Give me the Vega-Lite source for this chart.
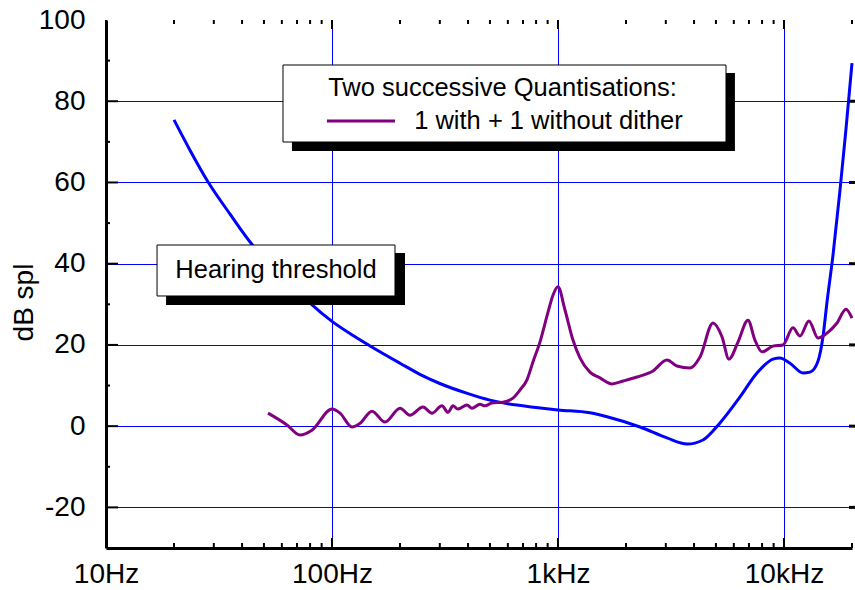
{
  "$schema": "https://vega.github.io/schema/vega-lite/v6.json",
  "width": 746,
  "height": 528,
  "autosize": "none",
  "padding": {"left": 106, "top": 20, "right": 3, "bottom": 42},
  "background": "white",
  "config": {"font": "Liberation Sans", "view": {"stroke": null}, "tick": {"opacity": 1}},
  "datasets": {
    "curves": [
      {"s": "Hearing threshold", "f": 20.0, "db": 75.4},
      {"s": "Hearing threshold", "f": 23.5, "db": 68.0},
      {"s": "Hearing threshold", "f": 28.3, "db": 60.1},
      {"s": "Hearing threshold", "f": 35.4, "db": 52.2},
      {"s": "Hearing threshold", "f": 44.2, "db": 44.8},
      {"s": "Hearing threshold", "f": 55, "db": 39.2},
      {"s": "Hearing threshold", "f": 65.5, "db": 35.0},
      {"s": "Hearing threshold", "f": 80, "db": 30.3},
      {"s": "Hearing threshold", "f": 100, "db": 25.8},
      {"s": "Hearing threshold", "f": 125, "db": 22.2},
      {"s": "Hearing threshold", "f": 150, "db": 19.5},
      {"s": "Hearing threshold", "f": 200, "db": 15.5},
      {"s": "Hearing threshold", "f": 250, "db": 12.5},
      {"s": "Hearing threshold", "f": 300, "db": 10.5},
      {"s": "Hearing threshold", "f": 400, "db": 8.0},
      {"s": "Hearing threshold", "f": 500, "db": 6.4},
      {"s": "Hearing threshold", "f": 600, "db": 5.5},
      {"s": "Hearing threshold", "f": 800, "db": 4.6},
      {"s": "Hearing threshold", "f": 1000, "db": 4.0},
      {"s": "Hearing threshold", "f": 1385, "db": 3.3},
      {"s": "Hearing threshold", "f": 1648, "db": 2.3},
      {"s": "Hearing threshold", "f": 2306, "db": -0.2},
      {"s": "Hearing threshold", "f": 3036, "db": -2.9},
      {"s": "Hearing threshold", "f": 3722, "db": -4.4},
      {"s": "Hearing threshold", "f": 4381, "db": -3.4},
      {"s": "Hearing threshold", "f": 5210, "db": 0.8},
      {"s": "Hearing threshold", "f": 6389, "db": 7.2},
      {"s": "Hearing threshold", "f": 7596, "db": 13.1},
      {"s": "Hearing threshold", "f": 8940, "db": 16.5},
      {"s": "Hearing threshold", "f": 9600, "db": 16.8},
      {"s": "Hearing threshold", "f": 10630, "db": 15.5},
      {"s": "Hearing threshold", "f": 12140, "db": 13.1},
      {"s": "Hearing threshold", "f": 13030, "db": 13.3},
      {"s": "Hearing threshold", "f": 14140, "db": 16.0},
      {"s": "Hearing threshold", "f": 14880, "db": 22},
      {"s": "Hearing threshold", "f": 15500, "db": 30.5},
      {"s": "Hearing threshold", "f": 16470, "db": 42},
      {"s": "Hearing threshold", "f": 17690, "db": 58},
      {"s": "Hearing threshold", "f": 18800, "db": 73},
      {"s": "Hearing threshold", "f": 20000, "db": 89.4},
      {"s": "Quantisation", "f": 52.1, "db": 3.2},
      {"s": "Quantisation", "f": 63.2, "db": 0.3},
      {"s": "Quantisation", "f": 72.2, "db": -2.2},
      {"s": "Quantisation", "f": 81.5, "db": -1.0},
      {"s": "Quantisation", "f": 100, "db": 4.2},
      {"s": "Quantisation", "f": 108.5, "db": 3.2},
      {"s": "Quantisation", "f": 122.6, "db": -0.2},
      {"s": "Quantisation", "f": 133, "db": 0.7},
      {"s": "Quantisation", "f": 150.3, "db": 3.7},
      {"s": "Quantisation", "f": 171.6, "db": 1.0},
      {"s": "Quantisation", "f": 200, "db": 4.4},
      {"s": "Quantisation", "f": 221.4, "db": 2.7},
      {"s": "Quantisation", "f": 252.7, "db": 4.7},
      {"s": "Quantisation", "f": 277, "db": 3.2},
      {"s": "Quantisation", "f": 306.7, "db": 5.0},
      {"s": "Quantisation", "f": 326.1, "db": 3.4},
      {"s": "Quantisation", "f": 343.1, "db": 5.0},
      {"s": "Quantisation", "f": 360.9, "db": 4.2},
      {"s": "Quantisation", "f": 395.7, "db": 5.2},
      {"s": "Quantisation", "f": 416.4, "db": 4.4},
      {"s": "Quantisation", "f": 451.6, "db": 5.4},
      {"s": "Quantisation", "f": 475.3, "db": 5.0},
      {"s": "Quantisation", "f": 510.5, "db": 5.7},
      {"s": "Quantisation", "f": 571, "db": 5.9},
      {"s": "Quantisation", "f": 632, "db": 6.9},
      {"s": "Quantisation", "f": 679, "db": 8.9},
      {"s": "Quantisation", "f": 729, "db": 11.4},
      {"s": "Quantisation", "f": 775, "db": 15.8},
      {"s": "Quantisation", "f": 832, "db": 20.7},
      {"s": "Quantisation", "f": 903, "db": 28.0},
      {"s": "Quantisation", "f": 951, "db": 32.3},
      {"s": "Quantisation", "f": 1000, "db": 34.3},
      {"s": "Quantisation", "f": 1074, "db": 28.6},
      {"s": "Quantisation", "f": 1165, "db": 21.2},
      {"s": "Quantisation", "f": 1251, "db": 16.8},
      {"s": "Quantisation", "f": 1385, "db": 13.3},
      {"s": "Quantisation", "f": 1534, "db": 11.9},
      {"s": "Quantisation", "f": 1734, "db": 10.4},
      {"s": "Quantisation", "f": 1939, "db": 11.1},
      {"s": "Quantisation", "f": 2237, "db": 12.1},
      {"s": "Quantisation", "f": 2633, "db": 13.6},
      {"s": "Quantisation", "f": 3036, "db": 16.3},
      {"s": "Quantisation", "f": 3362, "db": 14.8},
      {"s": "Quantisation", "f": 3838, "db": 14.3},
      {"s": "Quantisation", "f": 4250, "db": 17.0},
      {"s": "Quantisation", "f": 4852, "db": 25.4},
      {"s": "Quantisation", "f": 5317, "db": 22.0},
      {"s": "Quantisation", "f": 5709, "db": 16.5},
      {"s": "Quantisation", "f": 6258, "db": 20.7},
      {"s": "Quantisation", "f": 6930, "db": 26.1},
      {"s": "Quantisation", "f": 7440, "db": 21.2},
      {"s": "Quantisation", "f": 7993, "db": 18.3},
      {"s": "Quantisation", "f": 8940, "db": 19.7},
      {"s": "Quantisation", "f": 9900, "db": 20.0},
      {"s": "Quantisation", "f": 10960, "db": 24.2},
      {"s": "Quantisation", "f": 11770, "db": 22.2},
      {"s": "Quantisation", "f": 12900, "db": 25.9},
      {"s": "Quantisation", "f": 14140, "db": 21.7},
      {"s": "Quantisation", "f": 15500, "db": 22.9},
      {"s": "Quantisation", "f": 17160, "db": 25.4},
      {"s": "Quantisation", "f": 18800, "db": 28.8},
      {"s": "Quantisation", "f": 20000, "db": 26.6}
    ],
    "shadows": [
      {"box": "legend", "fa": 66.5, "fb": 6067, "da": 86.95, "db": 67.75},
      {"box": "threshold", "fa": 18.44, "fb": 210.4, "da": 42.63, "db": 29.83}
    ],
    "boxes": [
      {"box": "legend", "fa": 60.7, "fb": 5539, "da": 88.92, "db": 69.96},
      {"box": "threshold", "fa": 16.82, "fb": 190.0, "da": 44.6, "db": 32.05}
    ],
    "texts": [
      {"label": "Hearing threshold", "f": 56.5, "db": 38.45},
      {"label": "Two successive Quantisations:", "f": 568, "db": 83.38},
      {"label": "1 with + 1 without dither", "f": 907.7, "db": 75.13}
    ],
    "sample": [
      {"fa": 95.0, "fb": 190.0, "db": 75.13}
    ],
    "xmajor": [{"f": 10}, {"f": 100}, {"f": 1000}, {"f": 10000}],
    "xminor": [
      {"f": 20}, {"f": 30}, {"f": 40}, {"f": 50}, {"f": 60}, {"f": 70}, {"f": 80}, {"f": 90},
      {"f": 200}, {"f": 300}, {"f": 400}, {"f": 500}, {"f": 600}, {"f": 700}, {"f": 800}, {"f": 900},
      {"f": 2000}, {"f": 3000}, {"f": 4000}, {"f": 5000}, {"f": 6000}, {"f": 7000}, {"f": 8000}, {"f": 9000},
      {"f": 20000}
    ],
    "ymajor": [{"db": -20}, {"db": 0}, {"db": 20}, {"db": 40}, {"db": 60}, {"db": 80}],
    "yminor": [{"db": -10}, {"db": 10}, {"db": 30}, {"db": 50}, {"db": 70}, {"db": 90}]
  },
  "layer": [
    {
      "data": {"name": "curves"},
      "mark": {"type": "line", "strokeWidth": 3, "interpolate": "monotone"},
      "encoding": {
        "x": {
          "field": "f", "type": "quantitative",
          "scale": {"type": "log", "domain": [10, 20000], "nice": false},
          "axis": {
            "orient": "bottom",
            "title": null,
            "values": [10, 100, 1000, 10000],
            "labelExpr": "datum.value == 10 ? '10Hz' : datum.value == 100 ? '100Hz' : datum.value == 1000 ? '1kHz' : datum.value == 10000 ? '10kHz' : ''",
            "labelFont": "Liberation Sans", "labelFontSize": 28, "labelColor": "black",
            "labelPadding": 12, "labelFlush": false, "labelOverlap": false,
            "domainColor": "black", "domainWidth": 3,
            "ticks": false,
            "grid": true, "gridColor": "#0000ff", "gridWidth": 1,
            "gridOpacity": {"condition": {"test": "datum.value > 10", "value": 1}, "value": 0}
          }
        },
        "y": {
          "field": "db", "type": "quantitative",
          "scale": {"domain": [-30, 100], "nice": false, "zero": false},
          "axis": {
            "orient": "left",
            "title": "dB spl",
            "titleFont": "Liberation Sans", "titleFontSize": 28, "titleFontWeight": "normal", "titleColor": "black",
            "titleX": -74, "titleY": 282, "titleBaseline": "alphabetic", "titleAngle": 270,
            "values": [-20, 0, 20, 40, 60, 80, 100],
            "labelExpr": "toString(datum.value)",
            "labelFont": "Liberation Sans", "labelFontSize": 28, "labelColor": "black",
            "labelPadding": 21, "labelFlush": false, "labelOverlap": false,
            "domainColor": "black", "domainWidth": 3,
            "ticks": false,
            "grid": true, "gridColor": "#0000ff", "gridWidth": 1,
            "gridOpacity": {"condition": {"test": "datum.value < 100", "value": 1}, "value": 0}
          }
        },
        "color": {
          "field": "s", "type": "nominal",
          "scale": {"domain": ["Hearing threshold", "Quantisation"], "range": ["#0000ff", "#800080"]},
          "legend": null
        }
      }
    },
    {
      "mark": {"type": "rule", "color": "black", "strokeWidth": 3},
      "encoding": {"y": {"datum": 100, "type": "quantitative"}}
    },
    {
      "data": {"name": "xmajor"},
      "mark": {"type": "tick", "orient": "vertical", "color": "black", "opacity": 1, "size": 10, "thickness": 2, "yOffset": -5},
      "encoding": {
        "x": {"field": "f", "type": "quantitative"},
        "y": {"datum": -30, "type": "quantitative"}
      }
    },
    {
      "data": {"name": "xminor"},
      "mark": {"type": "tick", "orient": "vertical", "color": "black", "opacity": 1, "size": 5, "thickness": 2, "yOffset": -2.5},
      "encoding": {
        "x": {"field": "f", "type": "quantitative"},
        "y": {"datum": -30, "type": "quantitative"}
      }
    },
    {
      "data": {"name": "xmajor"},
      "mark": {"type": "tick", "orient": "vertical", "color": "black", "opacity": 1, "size": 9, "thickness": 2, "yOffset": 4.5},
      "encoding": {
        "x": {"field": "f", "type": "quantitative"},
        "y": {"datum": 100, "type": "quantitative"}
      }
    },
    {
      "data": {"name": "xminor"},
      "mark": {"type": "tick", "orient": "vertical", "color": "black", "opacity": 1, "size": 4, "thickness": 2, "yOffset": 2},
      "encoding": {
        "x": {"field": "f", "type": "quantitative"},
        "y": {"datum": 100, "type": "quantitative"}
      }
    },
    {
      "data": {"name": "ymajor"},
      "mark": {"type": "tick", "orient": "horizontal", "color": "black", "opacity": 1, "size": 12, "thickness": 2, "xOffset": 6},
      "encoding": {
        "y": {"field": "db", "type": "quantitative"},
        "x": {"datum": 10, "type": "quantitative"}
      }
    },
    {
      "data": {"name": "yminor"},
      "mark": {"type": "tick", "orient": "horizontal", "color": "black", "opacity": 1, "size": 4, "thickness": 2, "xOffset": 2},
      "encoding": {
        "y": {"field": "db", "type": "quantitative"},
        "x": {"datum": 10, "type": "quantitative"}
      }
    },
    {
      "data": {"name": "ymajor"},
      "mark": {"type": "tick", "orient": "horizontal", "color": "black", "opacity": 1, "size": 6, "thickness": 3},
      "encoding": {
        "y": {"field": "db", "type": "quantitative"},
        "x": {"datum": 20000, "type": "quantitative"}
      }
    },
    {
      "data": {"name": "shadows"},
      "mark": {"type": "rect", "fill": "black"},
      "encoding": {
        "x": {"field": "fa", "type": "quantitative"},
        "x2": {"field": "fb"},
        "y": {"field": "da", "type": "quantitative"},
        "y2": {"field": "db"}
      }
    },
    {
      "data": {"name": "boxes"},
      "mark": {"type": "rect", "fill": "white", "stroke": "black", "strokeWidth": 1},
      "encoding": {
        "x": {"field": "fa", "type": "quantitative"},
        "x2": {"field": "fb"},
        "y": {"field": "da", "type": "quantitative"},
        "y2": {"field": "db"}
      }
    },
    {
      "data": {"name": "texts"},
      "mark": {"type": "text", "font": "Liberation Sans", "fontSize": 25.5, "color": "black", "align": "center", "baseline": "middle"},
      "encoding": {
        "x": {"field": "f", "type": "quantitative"},
        "y": {"field": "db", "type": "quantitative"},
        "text": {"field": "label"}
      }
    },
    {
      "data": {"name": "sample"},
      "mark": {"type": "rule", "color": "#800080", "strokeWidth": 3},
      "encoding": {
        "x": {"field": "fa", "type": "quantitative"},
        "x2": {"field": "fb"},
        "y": {"field": "db", "type": "quantitative"}
      }
    }
  ]
}
